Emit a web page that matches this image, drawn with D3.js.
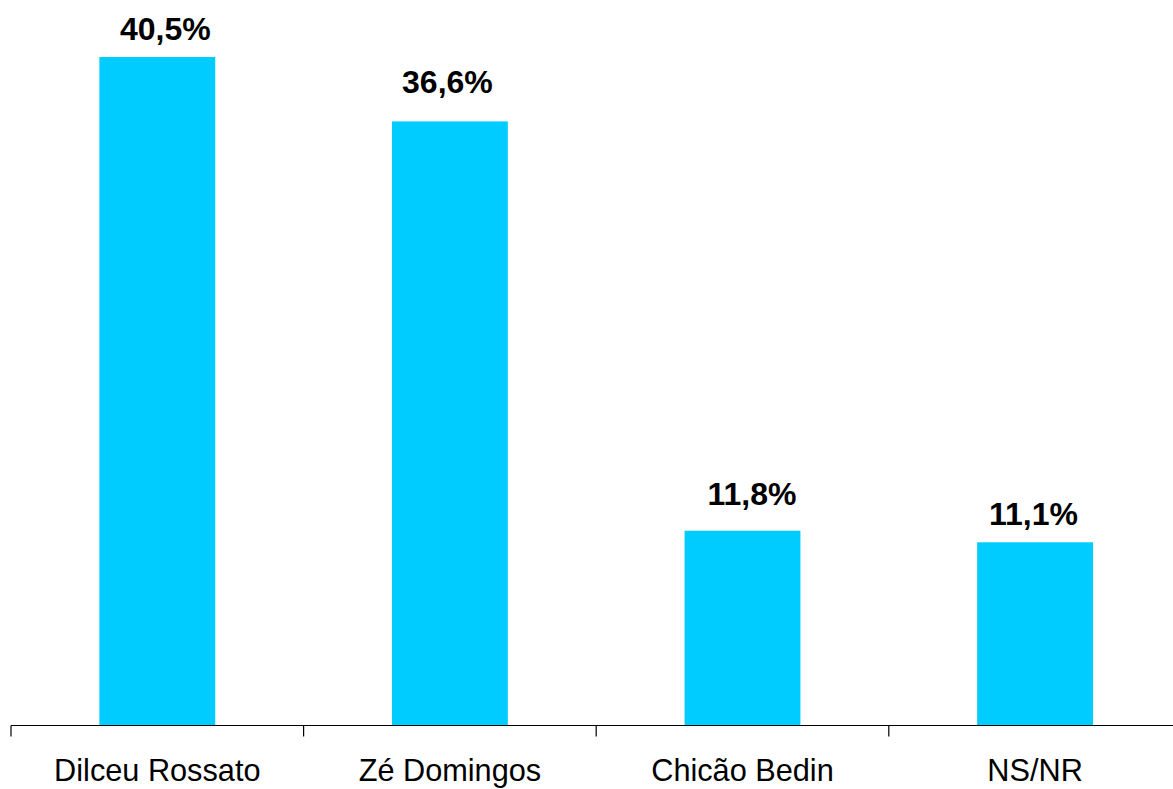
<!DOCTYPE html>
<html>
<head>
<meta charset="utf-8">
<script src="https://cdn.jsdelivr.net/npm/d3@7"></script>
<style>
  html, body { margin: 0; padding: 0; background: #ffffff; }
  svg { display: block; }
</style>
</head>
<body>
<svg id="chart" width="1173" height="789"></svg>
<script>
// ---- data ----
const categories = ["Dilceu Rossato", "Zé Domingos", "Chicão Bedin", "NS/NR"];
const values = [40.5, 36.6, 11.8, 11.1];
const valueLabels = ["40,5%", "36,6%", "11,8%", "11,1%"];

// ---- layout ----
const W = 1173, H = 789;
const svg = d3.select("#chart");
const x0 = 11, step = 292.6;
const baseY = 725.5;

const x = d3.scaleBand()
  .domain(categories)
  .range([x0, x0 + step * categories.length])
  .paddingInner(0.604)
  .paddingOuter(0.302);

const y = d3.scaleLinear()
  .domain([0, 40.5])
  .range([baseY, 57]);

// bars
svg.append("g")
  .selectAll("rect")
  .data(values)
  .join("rect")
  .attr("x", (d, i) => x(categories[i]))
  .attr("y", d => y(d))
  .attr("width", x.bandwidth())
  .attr("height", d => baseY - y(d))
  .attr("fill", "#00CCFF");

// axis line
const axisG = svg.append("g");
axisG.append("line")
  .attr("x1", x.range()[0]).attr("x2", x.range()[1])
  .attr("y1", baseY).attr("y2", baseY)
  .attr("stroke", "#000").attr("stroke-width", 1.2);

// ticks at category boundaries
const bounds = d3.range(categories.length + 1).map(i => x.range()[0] + i * x.step());
axisG.selectAll("line.tick")
  .data(bounds)
  .join("line")
  .attr("class", "tick")
  .attr("x1", d => d).attr("x2", d => d)
  .attr("y1", baseY).attr("y2", baseY + 11)
  .attr("stroke", "#000").attr("stroke-width", 1.2);

// category labels
axisG.selectAll("text.cat")
  .data(categories)
  .join("text")
  .attr("class", "cat")
  .attr("x", d => x(d) + x.bandwidth() / 2)
  .attr("y", 781)
  .attr("text-anchor", "middle")
  .attr("font-family", "Liberation Sans, Arial, sans-serif")
  .attr("font-size", "30.7px")
  .attr("fill", "#000")
  .text(d => d);

// value labels (small manual offsets as in the original)
const labelDx = [8, -2.5, 9.4, -1.7];
const labelDy = [-17, -28, -26, -17];
svg.append("g")
  .selectAll("text.val")
  .data(values)
  .join("text")
  .attr("class", "val")
  .attr("x", (d, i) => x(categories[i]) + x.bandwidth() / 2 + labelDx[i])
  .attr("y", (d, i) => y(d) + labelDy[i])
  .attr("text-anchor", "middle")
  .attr("font-family", "Liberation Sans, Arial, sans-serif")
  .attr("font-weight", "bold")
  .attr("font-size", "32px")
  .attr("fill", "#000")
  .text((d, i) => valueLabels[i]);
</script>
</body>
</html>
